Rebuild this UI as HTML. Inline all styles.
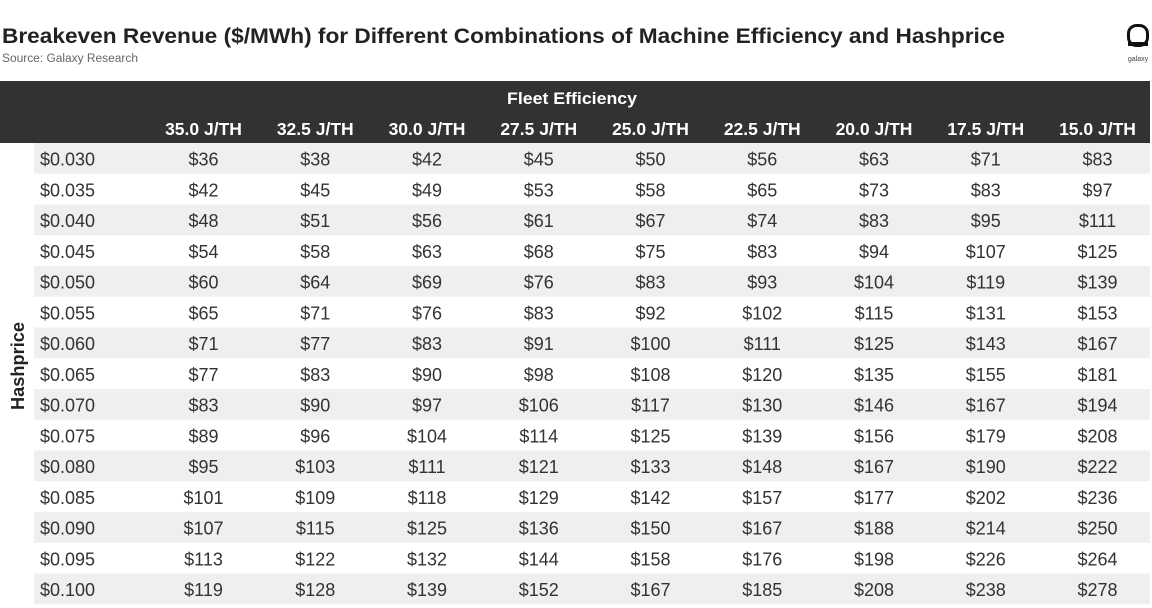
<!DOCTYPE html>
<html><head><meta charset="utf-8"><style>
html,body{margin:0;padding:0;background:#fff;}
svg{display:block;}
text{font-family:"Liberation Sans",sans-serif;}
</style></head><body>
<svg width="1152" height="608" viewBox="0 0 1152 608" xmlns="http://www.w3.org/2000/svg">
<rect width="1152" height="608" fill="#fff"/>
<text x="2" y="43" font-size="21" font-weight="bold" fill="#222" textLength="1003" lengthAdjust="spacingAndGlyphs">Breakeven Revenue ($/MWh) for Different Combinations of Machine Efficiency and Hashprice</text>
<text x="2" y="62" font-size="11.5" fill="#666" textLength="136" lengthAdjust="spacingAndGlyphs">Source: Galaxy Research</text>
<!-- logo -->
<g>
<rect x="1128.5" y="25.5" width="19" height="20" rx="8" ry="8" fill="none" stroke="#111" stroke-width="3"/>
<rect x="1128" y="42" width="20" height="4" fill="#111"/>
<text x="1138" y="61" font-size="7" fill="#444" text-anchor="middle">galaxy</text>
</g>
<rect x="0" y="81" width="1150" height="62" fill="#323232"/>
<text x="572" y="104" font-size="17" font-weight="bold" fill="#fff" text-anchor="middle" textLength="130" lengthAdjust="spacingAndGlyphs">Fleet Efficiency</text>
<g font-size="17.5" font-weight="bold" fill="#fff" text-anchor="middle">
<text x="203.5" y="135">35.0 J/TH</text>
<text x="315.25" y="135">32.5 J/TH</text>
<text x="427" y="135">30.0 J/TH</text>
<text x="538.75" y="135">27.5 J/TH</text>
<text x="650.5" y="135">25.0 J/TH</text>
<text x="762.25" y="135">22.5 J/TH</text>
<text x="874" y="135">20.0 J/TH</text>
<text x="985.75" y="135">17.5 J/TH</text>
<text x="1097.5" y="135">15.0 J/TH</text>
</g>
<g fill="#efefef">
<rect x="34" y="143" width="1116" height="30.75"/>
<rect x="34" y="204.5" width="1116" height="30.75"/>
<rect x="34" y="266" width="1116" height="30.75"/>
<rect x="34" y="327.5" width="1116" height="30.75"/>
<rect x="34" y="389" width="1116" height="30.75"/>
<rect x="34" y="450.5" width="1116" height="30.75"/>
<rect x="34" y="512" width="1116" height="30.75"/>
<rect x="34" y="573.5" width="1116" height="30.75"/>
</g>
<text transform="translate(24,366) rotate(-90)" font-size="18" font-weight="bold" fill="#222" text-anchor="middle" textLength="88" lengthAdjust="spacingAndGlyphs">Hashprice</text>
<g font-size="18" fill="#333">
<text x="40" y="165.5">$0.030</text>
<text x="40" y="196.25">$0.035</text>
<text x="40" y="227">$0.040</text>
<text x="40" y="257.75">$0.045</text>
<text x="40" y="288.5">$0.050</text>
<text x="40" y="319.25">$0.055</text>
<text x="40" y="350">$0.060</text>
<text x="40" y="380.75">$0.065</text>
<text x="40" y="411.5">$0.070</text>
<text x="40" y="442.25">$0.075</text>
<text x="40" y="473">$0.080</text>
<text x="40" y="503.75">$0.085</text>
<text x="40" y="534.5">$0.090</text>
<text x="40" y="565.25">$0.095</text>
<text x="40" y="596">$0.100</text>
</g>
<g font-size="18" fill="#333" text-anchor="middle">
<g transform="translate(0,165.5)"><text x="203.5">$36</text><text x="315.25">$38</text><text x="427">$42</text><text x="538.75">$45</text><text x="650.5">$50</text><text x="762.25">$56</text><text x="874">$63</text><text x="985.75">$71</text><text x="1097.5">$83</text></g>
<g transform="translate(0,196.25)"><text x="203.5">$42</text><text x="315.25">$45</text><text x="427">$49</text><text x="538.75">$53</text><text x="650.5">$58</text><text x="762.25">$65</text><text x="874">$73</text><text x="985.75">$83</text><text x="1097.5">$97</text></g>
<g transform="translate(0,227)"><text x="203.5">$48</text><text x="315.25">$51</text><text x="427">$56</text><text x="538.75">$61</text><text x="650.5">$67</text><text x="762.25">$74</text><text x="874">$83</text><text x="985.75">$95</text><text x="1097.5">$111</text></g>
<g transform="translate(0,257.75)"><text x="203.5">$54</text><text x="315.25">$58</text><text x="427">$63</text><text x="538.75">$68</text><text x="650.5">$75</text><text x="762.25">$83</text><text x="874">$94</text><text x="985.75">$107</text><text x="1097.5">$125</text></g>
<g transform="translate(0,288.5)"><text x="203.5">$60</text><text x="315.25">$64</text><text x="427">$69</text><text x="538.75">$76</text><text x="650.5">$83</text><text x="762.25">$93</text><text x="874">$104</text><text x="985.75">$119</text><text x="1097.5">$139</text></g>
<g transform="translate(0,319.25)"><text x="203.5">$65</text><text x="315.25">$71</text><text x="427">$76</text><text x="538.75">$83</text><text x="650.5">$92</text><text x="762.25">$102</text><text x="874">$115</text><text x="985.75">$131</text><text x="1097.5">$153</text></g>
<g transform="translate(0,350)"><text x="203.5">$71</text><text x="315.25">$77</text><text x="427">$83</text><text x="538.75">$91</text><text x="650.5">$100</text><text x="762.25">$111</text><text x="874">$125</text><text x="985.75">$143</text><text x="1097.5">$167</text></g>
<g transform="translate(0,380.75)"><text x="203.5">$77</text><text x="315.25">$83</text><text x="427">$90</text><text x="538.75">$98</text><text x="650.5">$108</text><text x="762.25">$120</text><text x="874">$135</text><text x="985.75">$155</text><text x="1097.5">$181</text></g>
<g transform="translate(0,411.5)"><text x="203.5">$83</text><text x="315.25">$90</text><text x="427">$97</text><text x="538.75">$106</text><text x="650.5">$117</text><text x="762.25">$130</text><text x="874">$146</text><text x="985.75">$167</text><text x="1097.5">$194</text></g>
<g transform="translate(0,442.25)"><text x="203.5">$89</text><text x="315.25">$96</text><text x="427">$104</text><text x="538.75">$114</text><text x="650.5">$125</text><text x="762.25">$139</text><text x="874">$156</text><text x="985.75">$179</text><text x="1097.5">$208</text></g>
<g transform="translate(0,473)"><text x="203.5">$95</text><text x="315.25">$103</text><text x="427">$111</text><text x="538.75">$121</text><text x="650.5">$133</text><text x="762.25">$148</text><text x="874">$167</text><text x="985.75">$190</text><text x="1097.5">$222</text></g>
<g transform="translate(0,503.75)"><text x="203.5">$101</text><text x="315.25">$109</text><text x="427">$118</text><text x="538.75">$129</text><text x="650.5">$142</text><text x="762.25">$157</text><text x="874">$177</text><text x="985.75">$202</text><text x="1097.5">$236</text></g>
<g transform="translate(0,534.5)"><text x="203.5">$107</text><text x="315.25">$115</text><text x="427">$125</text><text x="538.75">$136</text><text x="650.5">$150</text><text x="762.25">$167</text><text x="874">$188</text><text x="985.75">$214</text><text x="1097.5">$250</text></g>
<g transform="translate(0,565.25)"><text x="203.5">$113</text><text x="315.25">$122</text><text x="427">$132</text><text x="538.75">$144</text><text x="650.5">$158</text><text x="762.25">$176</text><text x="874">$198</text><text x="985.75">$226</text><text x="1097.5">$264</text></g>
<g transform="translate(0,596)"><text x="203.5">$119</text><text x="315.25">$128</text><text x="427">$139</text><text x="538.75">$152</text><text x="650.5">$167</text><text x="762.25">$185</text><text x="874">$208</text><text x="985.75">$238</text><text x="1097.5">$278</text></g>
</g>
</svg>
</body></html>
